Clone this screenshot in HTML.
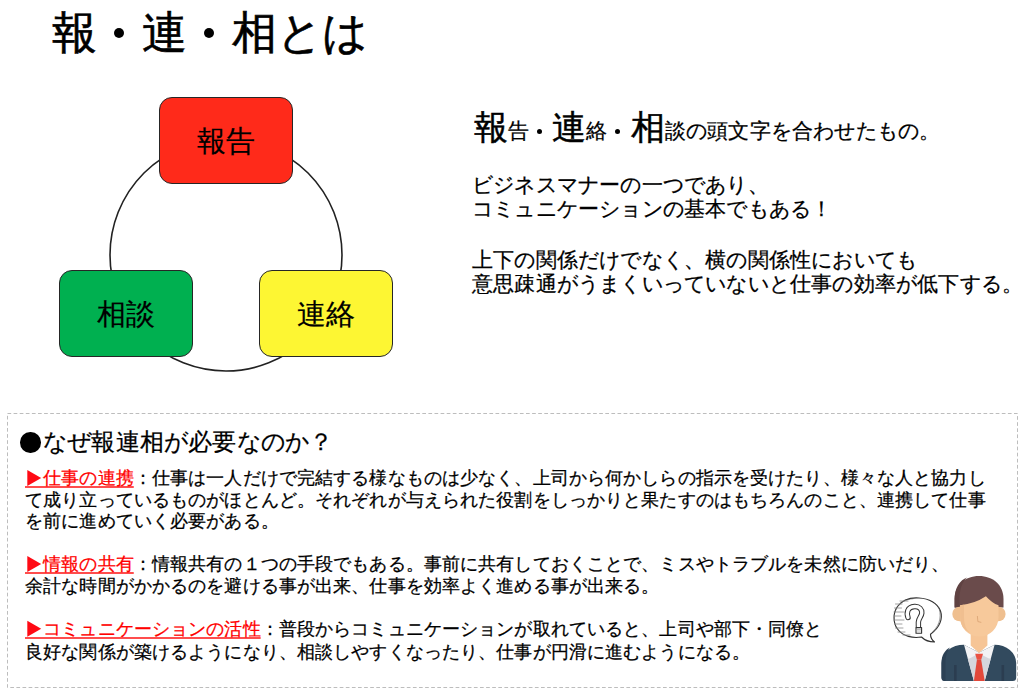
<!DOCTYPE html>
<html lang="ja">
<head>
<meta charset="utf-8">
<style>
html,body{margin:0;padding:0;background:#fff;}
body{width:1024px;height:694px;position:relative;overflow:hidden;font-family:"Liberation Sans",sans-serif;color:#000;}
.a{position:absolute;white-space:nowrap;line-height:1;-webkit-text-stroke:0.25px currentColor;}
.dot{position:absolute;width:5px;height:5px;border-radius:50%;background:#000;}
.box{position:absolute;width:132px;height:85px;border:1px solid #262626;border-radius:13px;}
.bt{position:absolute;left:0;right:0;text-align:center;font-size:29px;line-height:1;-webkit-text-stroke:0.2px #000;}
.r{color:#ff0000;text-decoration:underline;text-decoration-color:#ff4d4d;text-decoration-thickness:2px;text-underline-offset:2px;}
.s{font-size:18px;}
.m{font-size:21px;}
svg{position:absolute;left:0;top:0;}
</style>
</head>
<body>
<div class="a" style="left:52px;top:10px;font-size:45px;-webkit-text-stroke:0.6px #000;">報　連　相<span style="letter-spacing:-1.0px">とは</span></div>
<div class="dot" style="left:113.9px;top:27.6px;width:10px;height:10px"></div>
<div class="dot" style="left:203.9px;top:27.6px;width:10px;height:10px"></div>

<svg width="1024" height="694">
<circle cx="226" cy="255" r="116" fill="none" stroke="#222" stroke-width="1.6"/>
<rect x="7.5" y="413.5" width="1010" height="274" fill="none" stroke="#bdbdbd" stroke-width="1" stroke-dasharray="3.7 2.4"/>
</svg>
<div class="box" style="left:159px;top:97px;background:#ff2a1a;"><div class="bt" style="top:29px">報告</div></div>
<div class="box" style="left:59px;top:270px;background:#00b050;"><div class="bt" style="top:29px">相談</div></div>
<div class="box" style="left:259px;top:270px;background:#fdf633;"><div class="bt" style="top:29px">連絡</div></div>

<div class="a" style="left:474px;top:109.5px;font-size:34px;-webkit-text-stroke:0.5px #000">報</div>
<div class="a m" style="left:508px;top:120px;"><span style="letter-spacing:0.2px">告</span></div>
<div class="dot" style="left:537px;top:129px"></div>
<div class="a" style="left:552.4px;top:109.5px;font-size:34px;-webkit-text-stroke:0.5px #000">連</div>
<div class="a m" style="left:586.4px;top:120px;"><span style="letter-spacing:0.2px">絡</span></div>
<div class="dot" style="left:615.4px;top:129px"></div>
<div class="a" style="left:630.8px;top:109.5px;font-size:34px;-webkit-text-stroke:0.5px #000">相</div>
<div class="a m" style="left:664.8px;top:120px;"><span style="letter-spacing:0.2px">談</span><span style="letter-spacing:-0.8px">の</span><span style="letter-spacing:0.2px">頭文字</span><span style="letter-spacing:-0.8px">を</span><span style="letter-spacing:0.2px">合</span><span style="letter-spacing:-0.8px">わせたもの</span><span style="letter-spacing:0.2px">。</span></div>
<div class="a m" style="left:472px;top:174px;"><span style="letter-spacing:-0.8px">ビジネスマナ</span><span style="letter-spacing:0.2px">ー</span><span style="letter-spacing:-0.8px">の</span><span style="letter-spacing:0.2px">一</span><span style="letter-spacing:-0.8px">つであり</span><span style="letter-spacing:0.2px">、</span></div>
<div class="a m" style="left:472px;top:198px;"><span style="letter-spacing:-0.8px">コミュニケ</span><span style="letter-spacing:0.2px">ー</span><span style="letter-spacing:-0.8px">ションの</span><span style="letter-spacing:0.2px">基本</span><span style="letter-spacing:-0.8px">でもある</span><span style="letter-spacing:0.2px">！</span></div>
<div class="a m" style="left:472px;top:249px;"><span style="letter-spacing:0.2px">上下</span><span style="letter-spacing:-0.8px">の</span><span style="letter-spacing:0.2px">関係</span><span style="letter-spacing:-0.8px">だけでなく</span><span style="letter-spacing:0.2px">、横</span><span style="letter-spacing:-0.8px">の</span><span style="letter-spacing:0.2px">関係性</span><span style="letter-spacing:-0.8px">においても</span></div>
<div class="a m" style="left:472px;top:273px;"><span style="letter-spacing:0.2px">意思疎通</span><span style="letter-spacing:-0.8px">がうまくいっていないと</span><span style="letter-spacing:0.2px">仕事</span><span style="letter-spacing:-0.8px">の</span><span style="letter-spacing:0.2px">効率</span><span style="letter-spacing:-0.8px">が</span><span style="letter-spacing:0.2px">低下</span><span style="letter-spacing:-0.8px">する</span><span style="letter-spacing:0.2px">。</span></div>

<div style="position:absolute;left:20.3px;top:432px;width:20.5px;height:20.5px;border-radius:50%;background:#000;"></div>
<div class="a" style="left:42.94px;top:430px;font-size:24px;"><span style="letter-spacing:-0.81px">なぜ</span><span style="letter-spacing:0.19px">報連相</span><span style="letter-spacing:-0.81px">が</span><span style="letter-spacing:0.19px">必要</span><span style="letter-spacing:-0.81px">なのか</span><span style="letter-spacing:0.19px">？</span></div>

<div class="a s" style="left:25px;top:469px;"><span class="r"><span style="letter-spacing:0.125px">　仕事の連携</span></span><span style="letter-spacing:0.125px">：仕事は一人だけで完結する様なものは少なく、上司から何かしらの指示を受けたり、様々な人と協力し</span></div>
<div class="a s" style="left:25px;top:490.5px;"><span style="letter-spacing:0.125px">て成り立っているものがほとんど。それぞれが与えられた役割をしっかりと果たすのはもちろんのこと、連携して仕事</span></div>
<div class="a s" style="left:25px;top:512px;"><span style="letter-spacing:0.125px">を前に進めていく必要がある。</span></div>

<div class="a s" style="left:25px;top:555px;"><span class="r"><span style="letter-spacing:0.125px">　情報の共有</span></span><span style="letter-spacing:0.125px">：情報共有の１つの手段でもある。事前に共有しておくことで、ミスやトラブルを未然に防いだり、</span></div>
<div class="a s" style="left:25px;top:577px;"><span style="letter-spacing:0.125px">余計な時間がかかるのを避ける事が出来、仕事を効率よく進める事が出来る。</span></div>

<div class="a s" style="left:25px;top:620px;"><span class="r"><span style="letter-spacing:0.125px">　コミュニケーションの活性</span></span><span style="letter-spacing:0.125px">：普段からコミュニケーションが取れていると、上司や部下・同僚と</span></div>
<div class="a s" style="left:25px;top:643px;"><span style="letter-spacing:0.125px">良好な関係が築けるようになり、相談しやすくなったり、仕事が円滑に進むようになる。</span></div>

<svg width="1024" height="694">
<g fill="#ff0a14"><polygon points="27.3,470 41.2,478 27.3,486"/><polygon points="27.3,556 41.2,564 27.3,572"/><polygon points="27.3,620.8 41.2,628.8 27.3,636.8"/></g>
<!-- speech bubble -->
<g fill="none" stroke-linecap="round" stroke-linejoin="round">
<path d="M921.5,637 C913,638.5 903,636.5 897.5,629 C893,623 892.8,613 897.5,606.5 C903,599 912,597.5 919,598 C929,598.5 937.5,603 940.5,611 C943,618.5 940,627.5 930.5,634.2 C930.5,637 932,640 934.5,642 C929,642 924.5,640 921.5,637 Z" stroke="#333" stroke-width="1.15"/>
<path d="M895,612 C897,603 906,599 913,598.7 M938.5,607 C941.5,614 941,624 933,631.5" stroke="#555" stroke-width="0.6"/>
<path d="M895.5,604 L902,604 M894.5,608 L901.5,608 M894,612 L903.5,612 M894,616 L901,616 M894,620 L904,620 M894.5,624 L902,624 M895.5,628 L903,628 M898,632 L905,632 M903,635 L910,635 M900,601 L908,601" stroke="#8a8a8a" stroke-width="0.8"/>
<path d="M908,617.5 C906.5,613 907,607 914.5,606.5 C919.5,606.2 922,609.5 921.8,613 C921.6,616.5 918.5,618.5 918.4,622 L918.4,626.5" stroke="#333" stroke-width="5.4"/>
<path d="M908,617.5 C906.5,613 907,607 914.5,606.5 C919.5,606.2 922,609.5 921.8,613 C921.6,616.5 918.5,618.5 918.4,622 L918.4,626.5" stroke="#fff" stroke-width="3.4"/>
<rect x="916" y="627.6" width="5.6" height="5.6" stroke="#333" stroke-width="1.1" fill="#fff"/>
<path d="M917,629.5 L920.5,629.5 M917,631 L920.5,631" stroke="#999" stroke-width="0.6"/>
</g>
<!-- person -->
<g>
<path d="M941.5,663 A22.5,18.3 0 0 1 964,644.7 L979,652.5 L994.6,644.7 A21.6,18.3 0 0 1 1016.2,663 L1016.2,677.5 Q1016.2,681 1012.7,681 L945,681 Q941.5,681 941.5,677.5 Z" fill="#324a5e"/>
<path d="M941.5,663 C941.5,655 945,650 950,647.5 C947,651.5 945.5,656 945.5,663 L945.5,681 L945,681 Q941.5,681 941.5,677.5 Z" fill="#2c4155"/>
<path d="M964,644.7 L979,652.5 L994.6,644.7 L984.7,681 L973.9,681 Z" fill="#f3f3f5"/>
<path d="M967.7,658.5 L969.5,658.5 L976,655 L982,655 L989,658.5 L990.8,658.5 L984.7,681 L973.9,681 Z" fill="#d5d6dc"/>
<rect x="954" y="665" width="2.6" height="16" fill="#2b3d50"/>
<rect x="1001.5" y="665" width="2.6" height="16" fill="#2b3d50"/>
<path d="M970.7,626 L987.4,626 L987.4,645.5 L979,653 L970.7,645.5 Z" fill="#f6c596"/>
<path d="M975.2,653.8 L983,653.8 L981.2,659.8 L976.9,659.8 Z" fill="#ea5243"/>
<path d="M976.9,659.8 L981.2,659.8 L984.7,681 L973.9,681 Z" fill="#e2483a"/>
<path d="M954.6,607.5 L954.6,599 C954.6,585 965,576 979,576 C993,576 1003.5,585 1003.5,599 L1003.5,607.5 Z" fill="#6a4b4b"/>
<path d="M954.6,607.5 L954.6,599 C954.6,588 960,580 967,577.5 C962,582 959.5,590 959.5,599 L959.5,607.5 Z" fill="#5f4242"/>
<circle cx="959.6" cy="614" r="7.3" fill="#efbf8f"/>
<circle cx="998.3" cy="614" r="7.3" fill="#efbf8f"/>
<path d="M960.1,605.3 Q975,603.5 985.9,596.2 Q992,603 998.5,605.3 L998.5,617.4 A19.2,19.2 0 0 1 960.1,617.4 Z" fill="#f7c99b"/>
<path d="M960.1,605.3 Q962,605 964,604.7 L964,617.4 Q964,628 970,633 Q960.1,628 960.1,617.4 Z" fill="#f0bf90"/>
<path d="M977.4,616.4 L977.9,621.6 L980.9,622.3" fill="none" stroke="#dba676" stroke-width="0.9" stroke-linecap="round"/>
</g>
</svg>
</body>
</html>
